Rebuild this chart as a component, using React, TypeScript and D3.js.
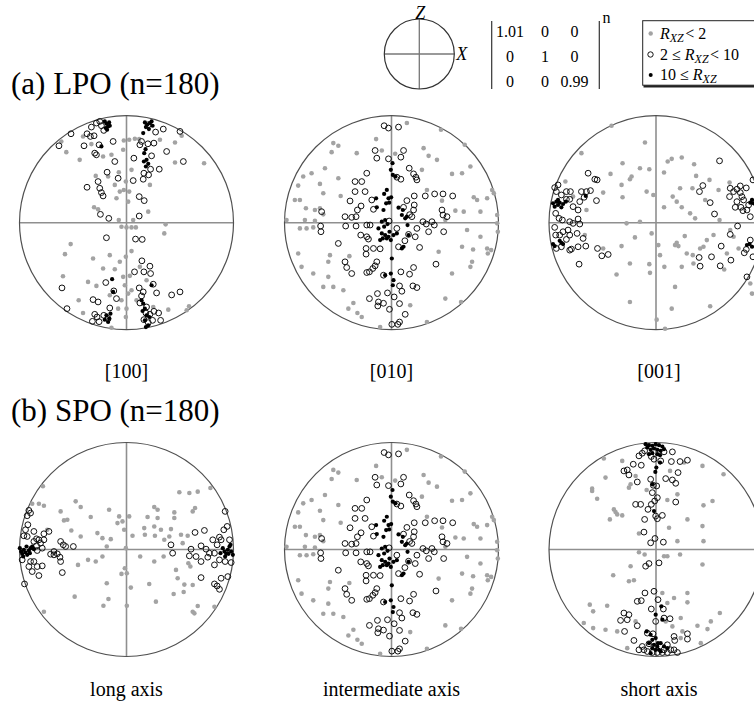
import React from 'react';
import * as d3 from 'd3';

type P = [number, number];

// Pole positions in equal-area projection units; the primitive circle has radius 320.
const NET_UNITS = 320;

// ---- (a) LPO, [100] poles ----
const lpo100Low: P[] = [[-195,243],[-180,211],[-130,258],[-105,235],[-70,198],[-45,203],[-140,188],[-92,140],[-55,138],[-23,151],[-35,113],[-30,73],[-20,93],[-8,98],[8,93],[5,63],[-8,246],[8,248],[25,251],[38,250],[-10,218],[15,158],[-2,123],[-97,46],[-85,40],[-23,8],[-15,-12],[0,-14],[15,-14],[28,-14],[20,8],[117,-5],[113,-32],[65,33],[70,113],[100,248],[145,240],[165,260],[232,178],[145,180],[-167,-64],[-184,-94],[-190,-160],[-100,-107],[-50,-97],[-2,-102],[15,-85],[-70,-137],[-35,-139],[-20,-117],[-10,-162],[10,-159],[-5,-187],[5,-212],[-90,-189],[-115,-177],[-143,-232],[-130,-270],[-25,-257],[0,-257],[-2,-282],[15,-202],[30,-232],[125,-260],[187,-250],[180,-262],[60,-172],[40,-132],[-45,-314],[-50,-217],[-15,-232],[80,-252]];
const lpo100Mid: P[] = [[-90,298],[-80,303],[-75,290],[-68,276],[-105,286],[-118,266],[-97,260],[-108,258],[-166,266],[-202,230],[-127,230],[-82,233],[-95,208],[-90,203],[-40,243],[-35,183],[-58,151],[-25,133],[-85,123],[-80,103],[-75,90],[-70,80],[-118,106],[-78,25],[-53,13],[65,293],[87,271],[110,280],[82,238],[64,236],[45,243],[40,233],[75,200],[22,193],[120,213],[170,183],[98,160],[72,160],[52,148],[66,143],[50,130],[20,126],[38,78],[53,66],[38,20],[160,273],[-60,-45],[27,-49],[47,-50],[46,-114],[70,-130],[72,-152],[24,-147],[52,-147],[80,-184],[38,-195],[50,-207],[45,-219],[90,-210],[135,-216],[160,-207],[-62,-179],[-38,-204],[-30,-227],[-50,-255],[-100,-230],[-85,-237],[-193,-195],[-178,-257],[-95,-274],[-88,-282],[-68,-277],[-55,-287],[-102,-295],[-82,-296],[58,-270],[70,-274],[82,-265],[96,-270],[102,-292],[78,-292],[65,-299],[52,-290],[40,-240],[60,-252]];
const lpo100High: P[] = [[-65,303],[-60,296],[-55,288],[-62,283],[-52,300],[-58,278],[-50,290],[55,300],[62,293],[70,298],[78,290],[58,286],[75,303],[67,280],[50,268],[57,220],[53,208],[60,188],[52,183],[58,168],[65,176],[-75,228],[-43,-169],[-40,-207],[75,-187],[45,-232],[50,-242],[55,-257],[48,-264],[60,-277],[55,-292],[65,-307],[58,-312],[68,-282],[-60,-277],[-52,-287],[-65,-290],[-55,-297],[-48,-272]];

// ---- (a) LPO, [010] poles; the intermediate axes of (b) fall on the same positions ----
const pole010Low: P[] = [[-46,250],[46,298],[148,278],[219,233],[96,223],[111,200],[11,206],[-174,238],[-159,230],[-179,211],[-199,163],[-239,148],[-264,138],[-279,111],[-214,116],[-204,88],[-289,68],[-274,68],[-256,43],[-229,38],[-214,43],[-204,25],[-229,6],[-259,8],[-314,8],[-274,-17],[-254,-17],[-234,-14],[236,168],[211,148],[181,146],[136,188],[106,98],[151,66],[191,36],[216,33],[246,76],[256,68],[286,73],[301,98],[306,88],[266,33],[316,23],[316,-2],[318,-27],[226,-22],[266,-42],[286,-77],[298,-82],[288,-92],[244,-80],[211,-72],[161,8],[141,-87],[241,-117],[236,-132],[161,-227],[208,-237],[106,-297],[-34,-312],[-129,-257],[-102,-270],[-114,-240],[-144,-202],[-189,-162],[-204,-192],[-174,-192],[-234,-152],[-269,-132],[-279,-92],[-184,-97],[91,158],[-104,208],[-29,216],[-126,-100],[-189,-117],[-89,-282],[56,-247],[181,-152],[-159,133],[-152,80]];
const pole010Mid: P[] = [[-22,290],[-9,283],[21,286],[-49,216],[-44,193],[36,216],[28,196],[-9,191],[53,163],[66,146],[73,136],[76,128],[-74,148],[-89,123],[-109,123],[16,136],[28,130],[-109,93],[-79,93],[-59,68],[-124,65],[-91,50],[-102,38],[-54,40],[-139,18],[-119,16],[-106,18],[-137,-10],[-106,-10],[-74,-7],[-64,-7],[-209,33],[-212,-10],[-211,-27],[-92,-37],[-74,-42],[-69,-49],[-159,-62],[-76,-77],[-54,-77],[-76,-94],[-34,-78],[-44,-117],[-49,-129],[-56,-137],[-66,-147],[-74,-149],[-139,-117],[-134,-134],[-119,-152],[-24,-157],[-12,-210],[-42,-212],[-66,-227],[-39,-237],[-24,-241],[-41,-249],[-6,-259],[24,-242],[41,-274],[8,-222],[31,-205],[24,-189],[54,-154],[66,-134],[64,-189],[76,-194],[133,-124],[84,-74],[71,-42],[76,-17],[51,-35],[21,-72],[16,-17],[-7,5],[68,80],[46,66],[36,46],[68,53],[66,38],[54,24],[61,18],[94,3],[104,-4],[121,3],[128,-7],[156,-27],[111,-27],[101,80],[129,86],[154,86],[183,80],[151,38],[154,23],[166,18],[24,-297],[19,-304],[1,-304],[28,-147],[40,-54]];
const pole010High: P[] = [[3,178],[-2,158],[4,143],[12,138],[-14,98],[-22,86],[-9,73],[-16,58],[-7,60],[-24,38],[-1,76],[-46,73],[21,45],[31,23],[41,13],[48,-7],[-39,-17],[-22,-12],[-29,-32],[-19,-37],[-9,-42],[-14,-47],[6,-37],[16,-32],[-26,-47],[-2,-52],[51,-37],[36,-72],[31,-77],[1,-107],[-2,-152],[4,-187],[-19,8],[-29,3],[-12,-4],[-6,-27],[-34,-52],[-44,46],[34,38],[46,18],[-19,-157],[6,-172]];

// ---- (a) LPO, [001] poles ----
const lpo001Low: P[] = [[-271,123],[-223,208],[-133,290],[-33,240],[-158,90],[-208,38],[-248,78],[-213,-37],[-158,-77],[-118,-155],[-78,-237],[-100,178],[-48,163],[-20,160],[-73,138],[-78,130],[-103,113],[-100,76],[-136,146],[-28,93],[-8,83],[-88,-2],[-48,3],[-13,-32],[-63,-44],[-103,-70],[-78,-122],[-20,-124],[-18,-150],[35,183],[47,191],[77,195],[114,175],[120,140],[160,128],[72,103],[109,103],[50,78],[62,63],[77,46],[102,28],[117,13],[24,46],[24,150],[147,68],[187,98],[220,120],[222,-22],[247,-77],[212,-92],[204,-140],[152,-52],[142,-72],[132,-77],[110,-97],[112,-122],[92,-92],[86,-40],[62,-60],[57,-67],[67,-70],[12,-97],[7,-67],[25,-132],[77,-132],[57,-192],[162,-250],[27,-317],[2,-290],[47,-257],[287,-212],[282,-182],[190,8],[232,-42],[172,-37]];
const lpo001Mid: P[] = [[-303,105],[-293,113],[-298,93],[-283,83],[-268,93],[-256,93],[-268,70],[-258,70],[-248,48],[-228,63],[-215,76],[-223,93],[-208,93],[-196,96],[-203,148],[-183,130],[-176,128],[-178,66],[-233,38],[-300,28],[-290,13],[-280,8],[-258,3],[-248,-2],[-233,11],[-228,-4],[-236,-32],[-218,-47],[-210,-70],[-233,-72],[-253,-79],[-258,-82],[-288,-37],[-278,-27],[-263,-22],[-258,-37],[-300,-37],[-283,-72],[-298,-77],[-268,-50],[-175,-77],[-162,-99],[-143,-95],[-230,-124],[-303,-14],[190,185],[140,111],[130,93],[162,60],[175,26],[222,103],[232,93],[220,78],[242,100],[252,110],[270,104],[252,90],[257,78],[262,68],[242,63],[237,46],[254,46],[260,36],[272,38],[282,18],[290,128],[244,-10],[222,-35],[195,-70],[282,-52],[270,-80],[264,-90],[166,-102],[192,-129],[224,-112],[129,-104],[132,-130],[272,-162],[290,-102],[277,53]];
const lpo001High: P[] = [[-308,58],[-298,63],[-293,53],[-288,60],[-278,56],[-270,63],[-303,48],[-283,46],[-293,68],[-308,-64],[-303,-70],[-283,-60],[-278,-64],[-288,-54],[287,68],[292,58],[282,60],[280,-64],[287,-72],[272,-67],[-210,80]];

// ---- (b) SPO, long axes ----
const longLow: P[] = [[-250,189],[-282,137],[-262,137],[-247,131],[-237,59],[-177,89],[-165,57],[-197,114],[-187,87],[-247,-186],[-155,-141],[-145,-46],[158,171],[188,169],[213,173],[251,184],[205,124],[198,114],[143,111],[143,94],[133,61],[128,39],[113,29],[103,59],[83,69],[93,94],[163,44],[168,19],[183,41],[185,-41],[191,-51],[148,-61],[153,-86],[173,-105],[198,-106],[171,-127],[141,-133],[198,-186],[203,-191],[263,-171],[213,-169],[111,-21],[83,-36],[68,-103],[88,-156],[-152,144],[-137,127],[-107,97],[-87,49],[-72,34],[-47,31],[-59,9],[-27,79],[-22,99],[-12,84],[8,99],[-7,59],[-2,4],[18,41],[41,-21],[63,97],[53,64],[83,127],[93,119],[85,41],[-5,-56],[-15,-73],[1,-71],[-59,-101],[-54,-148],[-69,-168],[1,-168],[13,-114],[-115,-31],[-92,-36],[-72,-21],[-137,39],[-52,119],[55,44]];
const longMid: P[] = [[-292,117],[-287,109],[-297,101],[-295,74],[-302,59],[-307,41],[-297,39],[-277,54],[-269,32],[-277,24],[-262,29],[-247,29],[-257,19],[-252,4],[-267,-3],[-247,47],[-232,54],[-227,-14],[-217,-16],[-207,-13],[-199,-23],[-217,-6],[-197,24],[-189,14],[-182,9],[-159,9],[-197,-36],[-192,-69],[-287,-36],[-277,-36],[-292,-51],[-282,-66],[-262,-78],[-252,-49],[-267,-51],[-305,-103],[-312,-31],[-269,11],[295,114],[301,69],[291,59],[283,29],[278,37],[271,14],[258,29],[233,57],[205,51],[193,1],[188,-19],[208,-21],[223,11],[238,1],[248,-11],[243,-23],[223,-36],[263,-11],[313,-39],[278,-31],[263,-46],[223,-84],[263,-103],[271,-109],[278,-119],[283,-86],[303,-81],[133,14],[138,-11],[295,-36],[308,29]];
const longHigh: P[] = [[-319,4],[-315,-6],[-312,-13],[-307,-1],[-302,-9],[-297,-16],[-292,-3],[-287,4],[-282,9],[-277,1],[-309,-21],[-299,9],[-289,-11],[288,4],[293,-6],[298,-13],[303,-1],[308,9],[313,-6],[318,-16],[311,14],[295,-21],[281,-11],[305,-13]];

// ---- (b) SPO, short axes ----
const shortLow: P[] = [[-156,272],[-191,182],[-191,175],[-176,152],[-151,215],[-101,265],[-76,195],[-61,220],[-81,185],[-28,178],[-126,120],[-121,112],[-116,105],[-101,102],[-138,90],[-51,48],[34,148],[84,260],[139,250],[42,235],[64,165],[94,90],[142,132],[169,145],[202,225],[139,70],[142,25],[64,25],[24,-20],[34,-20],[72,-15],[39,65],[-51,-8],[-34,-15],[-76,-50],[-81,-95],[-66,-92],[-128,-77],[139,-45],[94,-130],[54,-145],[94,-158],[191,-190],[164,-215],[154,-238],[124,-228],[134,-280],[74,-205],[79,-245],[-146,-168],[-198,-165],[-188,-185],[-216,-220],[-188,-235],[-151,-240],[-116,-245],[-86,-295],[-61,-215],[29,-215],[49,-230],[74,-265],[19,-130],[34,-160]];
const shortMid: P[] = [[-41,288],[-34,295],[-14,278],[14,265],[49,292],[46,263],[72,263],[94,267],[66,230],[29,212],[49,208],[59,198],[-51,280],[-44,252],[-68,255],[-86,238],[-96,235],[-81,223],[-56,202],[-16,210],[-8,192],[2,190],[-11,170],[4,155],[-4,145],[-14,135],[-24,120],[-61,135],[-46,135],[59,142],[-1,100],[4,92],[19,102],[-34,90],[-36,52],[-16,20],[-3,33],[22,22],[-21,-42],[-31,-50],[9,-40],[-33,-130],[-56,-155],[-44,-153],[-6,-125],[6,-150],[-14,-178],[22,-178],[-96,-190],[-81,-195],[-106,-212],[-86,-210],[-56,-228],[-1,-215],[24,-205],[42,-207],[-94,-245],[-26,-250],[-9,-252],[-66,-272],[54,-260],[56,-272],[94,-252],[94,-268],[-41,-290],[-36,-300],[-26,-305],[-11,-308],[4,-308],[19,-308],[24,-300],[34,-308],[44,-300],[54,-300],[64,-308],[34,-285],[-21,-282],[-51,-300],[-6,270],[24,292]];
const shortHigh: P[] = [[-31,315],[-21,312],[-11,310],[-1,315],[9,312],[19,308],[24,300],[14,295],[4,298],[-6,302],[-16,298],[-26,305],[-11,288],[4,285],[12,282],[-21,285],[-2,232],[-11,195],[12,260],[1,245],[-6,115],[16,-170],[-1,-195],[19,-210],[-28,-245],[-16,-255],[-11,-270],[-21,-280],[-6,-285],[4,-290],[9,-300],[-1,-300],[-11,-295],[14,-280],[24,-290],[34,-295],[-16,-310],[6,-280],[-1,-265],[14,-305]];

const stretchMatrix: string[][] = [
  ['1.01', '0', '0'],
  ['0', '1', '0'],
  ['0', '0', '0.99'],
];

const columnLabels = ['[100]', '[010]', '[001]'];
const axisLabels = ['long axis', 'intermediate axis', 'short axis'];
const rowTitles = ['(a) LPO (n=180)', '(b) SPO (n=180)'];

interface Net {
  row: number;
  col: number;
  low: P[];
  mid: P[];
  high: P[];
}

const nets: Net[] = [
  { row: 0, col: 0, low: lpo100Low, mid: lpo100Mid, high: lpo100High },
  { row: 0, col: 1, low: pole010Low, mid: pole010Mid, high: pole010High },
  { row: 0, col: 2, low: lpo001Low, mid: lpo001Mid, high: lpo001High },
  { row: 1, col: 0, low: longLow, mid: longMid, high: longHigh },
  { row: 1, col: 1, low: pole010Low, mid: pole010Mid, high: pole010High },
  { row: 1, col: 2, low: shortLow, mid: shortMid, high: shortHigh },
];

const W = 754;
const H = 708;
const R = 107;
const colX = [126.5, 391.5, 656];
const labelX = [126.5, 391.5, 659];
const rowY = [222.7, 549.5];
const FONT = "'Liberation Serif', 'Times New Roman', serif";

const GRAY = '#a3a3a3';
const RIM = '#505050';
const CROSS = '#8f8f8f';

function StereoNet({ net }: { net: Net }) {
  const cx = colX[net.col];
  const cy = rowY[net.row];
  const x = d3.scaleLinear().domain([-NET_UNITS, NET_UNITS]).range([cx - R, cx + R]);
  const y = d3.scaleLinear().domain([-NET_UNITS, NET_UNITS]).range([cy + R, cy - R]);
  return (
    <g>
      <line x1={x(-NET_UNITS)} x2={x(NET_UNITS)} y1={y(0)} y2={y(0)} stroke={CROSS} strokeWidth={1.6} />
      <line x1={x(0)} x2={x(0)} y1={y(-NET_UNITS)} y2={y(NET_UNITS)} stroke={CROSS} strokeWidth={1.6} />
      <circle cx={x(0)} cy={y(0)} r={x(NET_UNITS) - x(0)} fill="none" stroke={RIM} strokeWidth={1.2} />
      {net.low.map((d, i) => (
        <circle key={'l' + i} cx={x(d[0])} cy={y(d[1])} r={2.3} fill={GRAY} />
      ))}
      {net.mid.map((d, i) => (
        <circle key={'m' + i} cx={x(d[0])} cy={y(d[1])} r={2.9} fill="none" stroke="#111" strokeWidth={1} />
      ))}
      {net.high.map((d, i) => (
        <circle key={'h' + i} cx={x(d[0])} cy={y(d[1])} r={2.1} fill="#000" />
      ))}
    </g>
  );
}

function Rxz() {
  return (
    <>
      <tspan fontStyle="italic">R</tspan>
      <tspan fontStyle="italic" fontSize={12} dy={3}>XZ</tspan>
      <tspan dy={-3}>{'\u200a'}</tspan>
    </>
  );
}

export default function App() {
  const keyCx = 419.3;
  const keyCy = 54;
  const keyR = 35;
  const matCols = [510, 545, 574.5];
  const matRows = [37, 62, 87];
  const legendRows = [38.5, 59.5, 80];
  return (
    <svg
      width={W}
      height={H}
      viewBox={`0 0 ${W} ${H}`}
      style={{ position: 'absolute', left: 0, top: 0, background: '#fff' }}
      fontFamily={FONT}
    >
      <rect width={W} height={H} fill="#fff" />

      {/* reference frame */}
      <line x1={keyCx - keyR} x2={keyCx + keyR} y1={keyCy} y2={keyCy} stroke="#777" strokeWidth={1.3} />
      <line x1={keyCx} x2={keyCx} y1={keyCy - keyR} y2={keyCy + keyR} stroke="#777" strokeWidth={1.3} />
      <circle cx={keyCx} cy={keyCy} r={keyR} fill="none" stroke="#333" strokeWidth={1.2} />
      <text x={keyCx + 1} y={19} fontSize={18} fontStyle="italic" textAnchor="middle">Z</text>
      <text x={keyCx + 37} y={60} fontSize={18} fontStyle="italic">X</text>

      {/* strain matrix */}
      <line x1={491.7} x2={491.7} y1={21} y2={89} stroke="#333" strokeWidth={1.2} />
      <line x1={599.3} x2={599.3} y1={21} y2={89} stroke="#333" strokeWidth={1.2} />
      {stretchMatrix.map((row, ri) =>
        row.map((v, ci) => (
          <text key={`${ri}-${ci}`} x={matCols[ci]} y={matRows[ri]} fontSize={16} textAnchor="middle">
            {v}
          </text>
        ))
      )}
      <text x={606.5} y={22.5} fontSize={16} textAnchor="middle">n</text>

      {/* legend */}
      <rect x={642.7} y={20.7} width={130} height={64.5} fill="#fff" stroke="#222" strokeWidth={1} />
      <line x1={643.5} x2={775} y1={86.3} y2={86.3} stroke="#222" strokeWidth={2.2} />
      <circle cx={650.7} cy={legendRows[0] - 5} r={2.2} fill={GRAY} />
      <circle cx={650.5} cy={legendRows[1] - 5} r={2.7} fill="none" stroke="#111" strokeWidth={1} />
      <circle cx={650.7} cy={legendRows[2] - 5} r={2} fill="#000" />
      <text x={660} y={legendRows[0]} fontSize={16}>
        <Rxz />{'< 2'}
      </text>
      <text x={660} y={legendRows[1]} fontSize={16}>
        {'2 \u2264 '}<Rxz />{'< 10'}
      </text>
      <text x={660} y={legendRows[2]} fontSize={16}>
        {'10 \u2264 '}<Rxz />
      </text>

      {/* row titles */}
      <text x={11} y={94} fontSize={31}>{rowTitles[0]}</text>
      <text x={11} y={421} fontSize={31}>{rowTitles[1]}</text>

      {nets.map((n, i) => (
        <StereoNet key={i} net={n} />
      ))}

      {columnLabels.map((t, i) => (
        <text key={t} x={labelX[i]} y={378} fontSize={20} textAnchor="middle">{t}</text>
      ))}
      {axisLabels.map((t, i) => (
        <text key={t} x={labelX[i]} y={696} fontSize={20} textAnchor="middle">{t}</text>
      ))}
    </svg>
  );
}
